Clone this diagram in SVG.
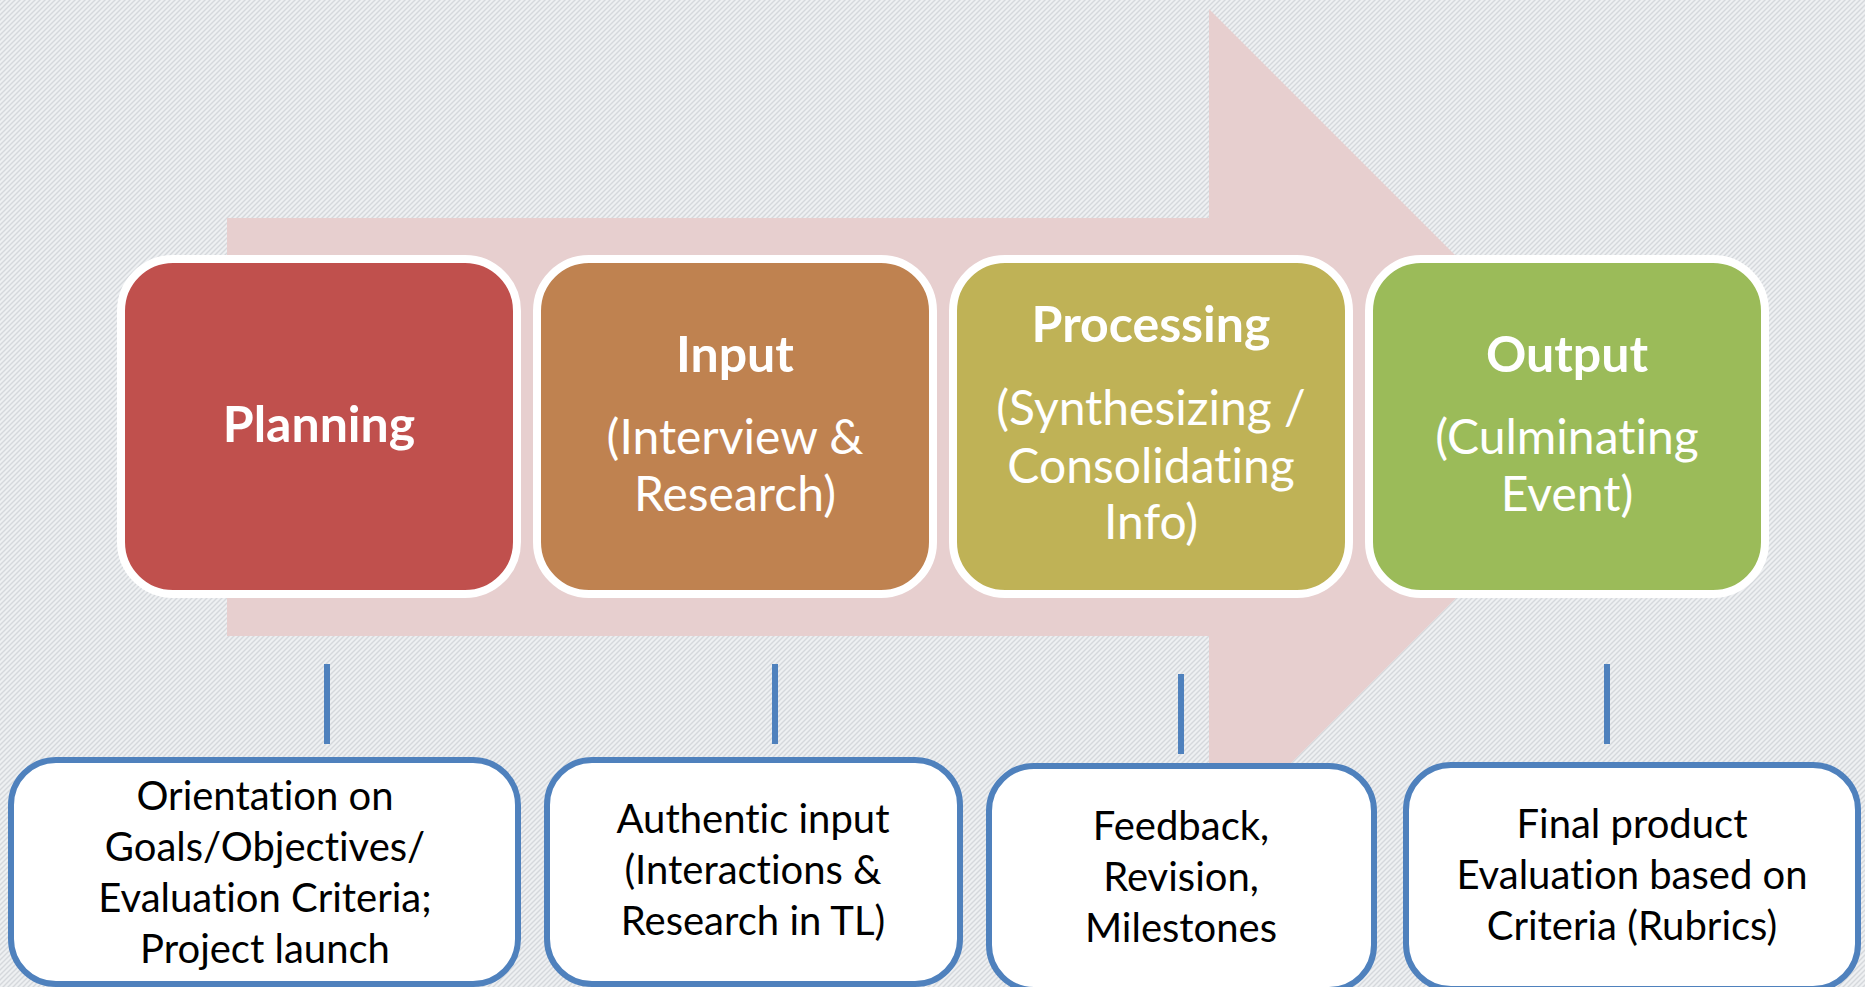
<svg xmlns="http://www.w3.org/2000/svg" width="1865" height="987" viewBox="0 0 1865 987">
<defs>
<pattern id="bg" patternUnits="userSpaceOnUse" width="5" height="5">
<rect width="5" height="5" fill="#eef0f2"/>
<path d="M-1,6 L6,-1 M-1,1 L1,-1 M4,6 L6,4" stroke="#d5d8dc" stroke-width="1.4"/>
</pattern>
<style>
text{font-variant-ligatures:none;font-feature-settings:"liga" 0,"clig" 0,"dlig" 0,"calt" 0}
.stage{stroke:#ffffff;stroke-width:8}
.title{font-family:Lato,"Liberation Sans",sans-serif;font-weight:bold;font-size:50px;fill:#ffffff;text-anchor:middle}
.sub{font-family:Lato,"Liberation Sans",sans-serif;font-size:48px;fill:#ffffff;text-anchor:middle}
.note{fill:#ffffff;stroke:#4f81bd;stroke-width:6}
.ntext{font-family:Lato,"Liberation Sans",sans-serif;font-size:40px;fill:#000000;text-anchor:middle}
.conn{stroke:#4f81bd;stroke-width:6}
</style>
</defs>
<rect width="1865" height="987" fill="url(#bg)"/>
<polygon id="big-arrow" points="227,218 1209,218 1209,9 1627,427 1209,845 1209,636 227,636" fill="#e7cfcf"/>
<g id="connectors">
<line class="conn" x1="327" y1="664" x2="327" y2="744"/>
<line class="conn" x1="775" y1="664" x2="775" y2="744"/>
<line class="conn" x1="1181" y1="674" x2="1181" y2="754"/>
<line class="conn" x1="1607" y1="664" x2="1607" y2="744"/>
</g>
<g id="planning">
<rect class="stage" x="121" y="259" width="396" height="335" rx="52" fill="#c0504d"/>
<text class="title" x="319" y="442">Planning</text>
</g>
<g id="input">
<rect class="stage" x="537" y="259" width="396" height="335" rx="52" fill="#bf8250"/>
<text class="title" x="735" y="372">Input</text>
<text class="sub" x="735" y="454">(Interview &amp;</text>
<text class="sub" x="735" y="511">Research)</text>
</g>
<g id="processing">
<rect class="stage" x="953" y="259" width="396" height="335" rx="52" fill="#bfb256"/>
<text class="title" x="1151" y="342">Processing</text>
<text class="sub" x="1151" y="425">(Synthesizing /</text>
<text class="sub" x="1151" y="483">Consolidating</text>
<text class="sub" x="1151" y="539">Info)</text>
</g>
<g id="output">
<rect class="stage" x="1369" y="259" width="396" height="335" rx="52" fill="#9bbb59"/>
<text class="title" x="1567" y="372">Output</text>
<text class="sub" x="1567" y="454">(Culminating</text>
<text class="sub" x="1567" y="511">Event)</text>
</g>
<g id="note-planning">
<rect class="note" x="11" y="760" width="507" height="224" rx="45"/>
<text class="ntext" x="265" y="810">Orientation on</text>
<text class="ntext" x="265" y="861">Goals/Objectives/</text>
<text class="ntext" x="265" y="912">Evaluation Criteria;</text>
<text class="ntext" x="265" y="963">Project launch</text>
</g>
<g id="note-input">
<rect class="note" x="547" y="760" width="413" height="224" rx="45"/>
<text class="ntext" x="753" y="833">Authentic input</text>
<text class="ntext" x="753" y="884">(Interactions &amp;</text>
<text class="ntext" x="753" y="935">Research in TL)</text>
</g>
<g id="note-processing">
<rect class="note" x="989" y="766" width="385" height="224" rx="45"/>
<text class="ntext" x="1181" y="840">Feedback,</text>
<text class="ntext" x="1181" y="891">Revision,</text>
<text class="ntext" x="1181" y="942">Milestones</text>
</g>
<g id="note-output">
<rect class="note" x="1406" y="765" width="452" height="224" rx="45"/>
<text class="ntext" x="1632" y="838">Final product</text>
<text class="ntext" x="1632" y="889">Evaluation based on</text>
<text class="ntext" x="1632" y="940">Criteria (Rubrics)</text>
</g>
</svg>
